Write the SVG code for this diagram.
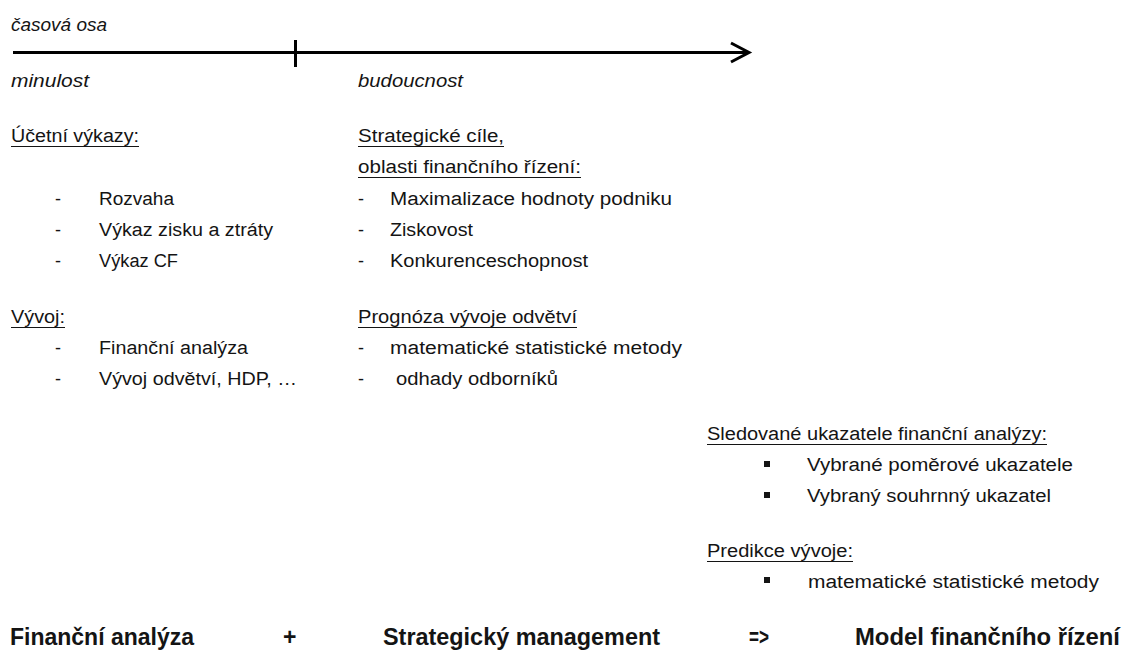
<svg xmlns="http://www.w3.org/2000/svg" width="1123" height="650" viewBox="0 0 1123 650">
<style>
text{font-family:"Liberation Sans",Arial,sans-serif;fill:#141414;font-size:18px}
.it{font-style:italic}
.b{font-weight:bold;font-size:23px}
.ul{stroke:#141414;stroke-width:1.2}
.ax{stroke:#000;stroke-width:3;fill:none}
</style>
<rect width="1123" height="650" fill="#fff"/>
<g id="connectors">
<line class="ax" x1="13" y1="52.5" x2="748" y2="52.5"/>
<line class="ax" x1="295.5" y1="40" x2="295.5" y2="67"/>
<polyline class="ax" points="731,43 749,52.5 731,62" stroke-linejoin="miter"/>
</g>
<g id="axis-labels">
<text class="it" x="11" y="31" textLength="96" lengthAdjust="spacingAndGlyphs">časová osa</text>
<text class="it" x="11" y="87" textLength="78" lengthAdjust="spacingAndGlyphs">minulost</text>
<text class="it" x="358" y="87" textLength="105" lengthAdjust="spacingAndGlyphs">budoucnost</text>
</g>
<g id="ucetni-vykazy">
<text x="11" y="142" textLength="128" lengthAdjust="spacingAndGlyphs">Účetní výkazy:</text>
<line class="ul" x1="11" y1="146.5" x2="139" y2="146.5"/>
<text x="55" y="205">-</text><text x="99" y="205" textLength="75" lengthAdjust="spacingAndGlyphs">Rozvaha</text>
<text x="55" y="236">-</text><text x="99" y="236" textLength="174" lengthAdjust="spacingAndGlyphs">Výkaz zisku a ztráty</text>
<text x="55" y="267">-</text><text x="99" y="267" textLength="79" lengthAdjust="spacingAndGlyphs">Výkaz CF</text>
</g>
<g id="strategicke-cile">
<text x="358" y="142" textLength="146" lengthAdjust="spacingAndGlyphs">Strategické cíle,</text>
<line class="ul" x1="358" y1="146.5" x2="504" y2="146.5"/>
<text x="358" y="173" textLength="223" lengthAdjust="spacingAndGlyphs">oblasti finančního řízení:</text>
<line class="ul" x1="358" y1="177.5" x2="581" y2="177.5"/>
<text x="358" y="205">-</text><text x="390" y="205" textLength="282" lengthAdjust="spacingAndGlyphs">Maximalizace hodnoty podniku</text>
<text x="358" y="236">-</text><text x="390" y="236" textLength="83" lengthAdjust="spacingAndGlyphs">Ziskovost</text>
<text x="358" y="267">-</text><text x="390" y="267" textLength="198" lengthAdjust="spacingAndGlyphs">Konkurenceschopnost</text>
</g>
<g id="vyvoj">
<text x="11" y="323" textLength="54" lengthAdjust="spacingAndGlyphs">Vývoj:</text>
<line class="ul" x1="11" y1="327.5" x2="65" y2="327.5"/>
<text x="55" y="354">-</text><text x="99" y="354" textLength="149" lengthAdjust="spacingAndGlyphs">Finanční analýza</text>
<text x="55" y="385">-</text><text x="99" y="385" textLength="198" lengthAdjust="spacingAndGlyphs">Vývoj odvětví, HDP, …</text>
</g>
<g id="prognoza">
<text x="358" y="323" textLength="219" lengthAdjust="spacingAndGlyphs">Prognóza vývoje odvětví</text>
<line class="ul" x1="358" y1="327.5" x2="577" y2="327.5"/>
<text x="358" y="354">-</text><text x="390" y="354" textLength="292" lengthAdjust="spacingAndGlyphs">matematické statistické metody</text>
<text x="358" y="385">-</text><text x="396" y="385" textLength="162" lengthAdjust="spacingAndGlyphs">odhady odborníků</text>
</g>
<g id="sledovane-ukazatele">
<text x="707" y="440" textLength="340" lengthAdjust="spacingAndGlyphs">Sledované ukazatele finanční analýzy:</text>
<line class="ul" x1="707" y1="444.5" x2="1047" y2="444.5"/>
<rect x="764" y="461" width="6" height="6" fill="#141414"/>
<text x="807" y="471" textLength="266" lengthAdjust="spacingAndGlyphs">Vybrané poměrové ukazatele</text>
<rect x="764" y="492" width="6" height="6" fill="#141414"/>
<text x="807" y="502" textLength="244" lengthAdjust="spacingAndGlyphs">Vybraný souhrnný ukazatel</text>
</g>
<g id="predikce">
<text x="707" y="557" textLength="146" lengthAdjust="spacingAndGlyphs">Predikce vývoje:</text>
<line class="ul" x1="707" y1="561.5" x2="853" y2="561.5"/>
<rect x="764" y="577" width="6" height="6" fill="#141414"/>
<text x="808" y="588" textLength="291" lengthAdjust="spacingAndGlyphs">matematické statistické metody</text>
</g>
<g id="summary">
<text class="b" x="10" y="645" textLength="184" lengthAdjust="spacingAndGlyphs">Finanční analýza</text>
<text class="b" x="283" y="645">+</text>
<text class="b" x="383" y="645" textLength="277" lengthAdjust="spacingAndGlyphs">Strategický management</text>
<text class="b" x="749" y="645" textLength="20" lengthAdjust="spacingAndGlyphs">=&gt;</text>
<text class="b" x="855" y="645" textLength="265" lengthAdjust="spacingAndGlyphs">Model finančního řízení</text>
</g>
</svg>
